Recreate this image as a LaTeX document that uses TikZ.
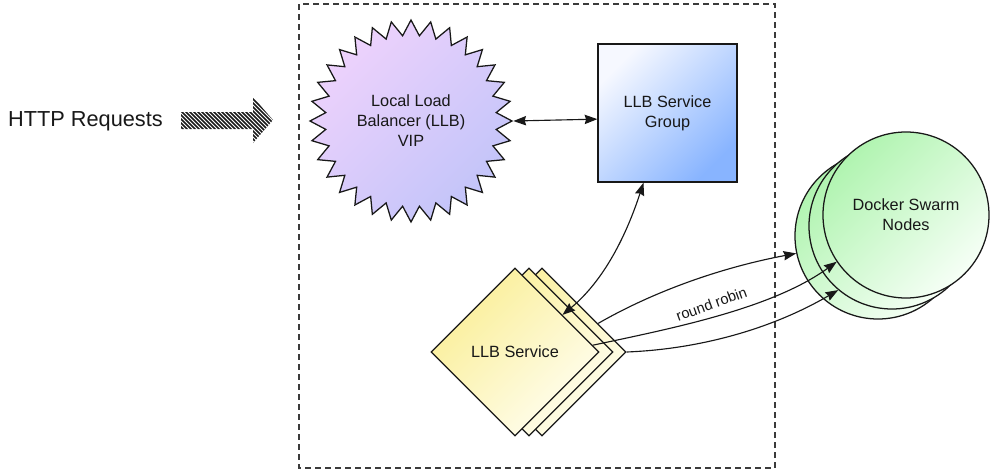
\documentclass[tikz,border=0pt]{standalone}
\usepackage{fontspec}
\setmainfont{Liberation Sans}
\usetikzlibrary{shapes.geometric,arrows.meta}
\definecolor{vipA}{RGB}{238,210,252}
\definecolor{vipB}{RGB}{194,196,249}
\definecolor{sgA}{RGB}{246,248,255}
\definecolor{sgB}{RGB}{136,180,255}
\definecolor{yelA}{RGB}{250,238,150}
\definecolor{yelB}{RGB}{255,254,240}
\definecolor{grnA}{RGB}{176,244,176}
\definecolor{grnB}{RGB}{246,255,246}
\definecolor{ink}{RGB}{24,24,24}
\begin{document}
\begin{tikzpicture}[x=0.75pt,y=-0.75pt,
  >={Stealth[length=9.5pt,width=7pt,inset=1pt]},
  lbl/.style={font=\fontsize{12.2}{15}\selectfont, align=center, text=ink},
  outline/.style={draw=ink, line width=0.95pt},
  vipstyle/.style={outline, lbl, star, star points=32, star point ratio=1.18,
    minimum size=151.5pt, inner sep=0pt, top color=vipA, bottom color=vipB, shading angle=45},
  sgstyle/.style={outline, lbl, rectangle, minimum width=104.25pt, minimum height=103.5pt,
    inner sep=0pt, top color=sgA, bottom color=sgB, shading angle=45},
  dbox/.style={outline, lbl, diamond, aspect=1, minimum width=126pt, minimum height=126pt,
    inner sep=0pt, top color=yelA, bottom color=yelB, shading angle=45},
  cnode/.style={outline, lbl, circle, minimum size=124.5pt, inner sep=0pt,
    top color=grnA, bottom color=grnB, shading angle=45},
  conn/.style={draw=ink, line width=0.85pt},
  frame/.style={draw=ink!85, line width=0.8pt, dash pattern=on 4.5pt off 3pt}
]
\useasboundingbox (0,0) rectangle (993,472);

% dashed container
\draw[frame] (299,4) rectangle (775,468);

% HTTP requests label and striped arrow
\node[font=\fontsize{16.3}{19}\selectfont, text=ink] (http) at (85.5,121.5) {HTTP Requests};
\begin{scope}
  \clip (181,112) -- (253,112) -- (253,97) -- (273,120) -- (253,143) -- (253,129) -- (181,129) -- cycle;
  \foreach \i in {120,124,...,290} {
    \draw[line width=1.2pt, ink] (\i,90) -- (\i+60,150);
  }
\end{scope}

% nodes
\node[vipstyle] (vip) at (411,121) {Local Load\\Balancer (LLB)\\VIP};
\node[sgstyle] (sg) at (667.5,113) {LLB Service\\Group};

\node[dbox] (d3) at (542,352) {};
\node[dbox] (d2) at (529,352) {};
\node[dbox] (d1) at (515,352) {LLB Service};

\node[cnode] (c3) at (878,236) {};
\node[cnode] (c2) at (892,226) {};
\node[cnode] (c1) at (906,215) {Docker Swarm\\Nodes};

% connectors
\draw[conn, <->] (vip.0) -- (sg.185);
\draw[conn, <->] (d1.38) .. controls +(42,-35) and +(-17,52) .. (sg.251);
\draw[conn, ->] (d3.27) .. controls +(61,-35) and +(-69,13) .. (c3.192);
\draw[conn, ->] (d1.5) .. controls +(80,-17) and +(-65,47) .. (c1.214);
\draw[conn, ->] (d3.0) .. controls +(75,-3) and +(-65,38) .. (c2.230);

\node[font=\fontsize{11}{13}\selectfont, text=ink, rotate=20] (rr) at (711.5,304) {round robin};
\end{tikzpicture}
\end{document}
